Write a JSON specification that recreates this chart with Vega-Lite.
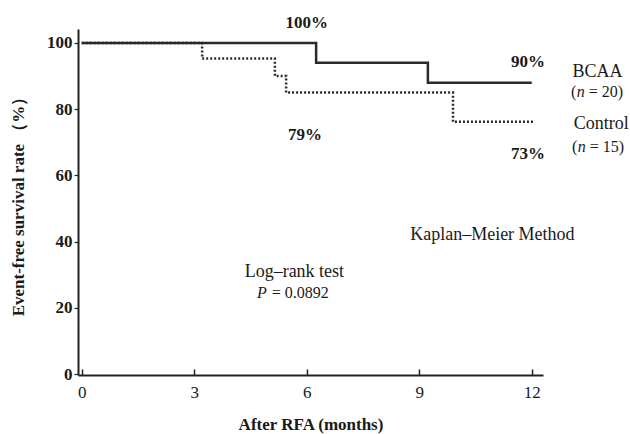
{
  "$schema": "https://vega.github.io/schema/vega-lite/v6.json",
  "width": 465,
  "height": 346,
  "autosize": {"type": "none"},
  "padding": {"left": 78, "top": 29, "right": 87, "bottom": 59},
  "background": "white",
  "config": {
    "view": {"stroke": null},
    "font": "Liberation Serif",
    "text": {"font": "Liberation Serif", "color": "#1a1a1a"}
  },
  "datasets": {
    "curves": [
      {"group": "BCAA", "month": 0, "rate": 100},
      {"group": "BCAA", "month": 6.25, "rate": 94},
      {"group": "BCAA", "month": 9.23, "rate": 88},
      {"group": "BCAA", "month": 12, "rate": 88},
      {"group": "Control", "month": 0, "rate": 100},
      {"group": "Control", "month": 3.21, "rate": 95.3},
      {"group": "Control", "month": 5.15, "rate": 90},
      {"group": "Control", "month": 5.45, "rate": 85},
      {"group": "Control", "month": 9.9, "rate": 76.2},
      {"group": "Control", "month": 12.08, "rate": 76.2}
    ],
    "labels": [
      {"kind": "pct", "text": "100%", "month": 6.0, "rate": 106.0},
      {"kind": "pct", "text": "79%", "month": 5.95, "rate": 72.2},
      {"kind": "pct", "text": "90%", "month": 11.9, "rate": 94.3},
      {"kind": "pct", "text": "73%", "month": 11.9, "rate": 66.5},
      {"kind": "center", "text": "BCAA", "month": 13.75, "rate": 91.1},
      {"kind": "center", "text": "Control", "month": 13.85, "rate": 75.6},
      {"kind": "center", "text": "Kaplan–Meier Method", "month": 10.95, "rate": 42.0},
      {"kind": "center", "text": "Log–rank test", "month": 5.67, "rate": 30.8},
      {"kind": "left", "text": "(", "month": 13.047, "rate": 85.2},
      {"kind": "italic", "text": "n", "month": 13.2, "rate": 85.2},
      {"kind": "left", "text": "= 20)", "month": 13.52, "rate": 85.2},
      {"kind": "left", "text": "(", "month": 13.073, "rate": 68.5},
      {"kind": "italic", "text": "n", "month": 13.226, "rate": 68.5},
      {"kind": "left", "text": "= 15)", "month": 13.546, "rate": 68.5},
      {"kind": "italic", "text": "P", "month": 4.673, "rate": 24.5},
      {"kind": "left", "text": "= 0.0892", "month": 5.065, "rate": 24.5}
    ]
  },
  "layer": [
    {
      "data": {"name": "curves"},
      "mark": {"type": "line", "interpolate": "step-after", "strokeWidth": 2.5, "color": "#2a2a2a", "clip": false},
      "encoding": {
        "x": {
          "field": "month", "type": "quantitative",
          "scale": {"domain": [-0.1, 12.3], "nice": false, "zero": false},
          "axis": {
            "values": [0, 3, 6, 9, 12],
            "title": "After RFA (months)",
            "grid": false,
            "tickSize": -6,
            "tickWidth": 1.5,
            "tickColor": "#222",
            "domainColor": "#222",
            "domainWidth": 2,
            "labelFont": "Liberation Serif",
            "labelFontSize": 17,
            "labelColor": "#1a1a1a",
            "labelPadding": 15,
            "titleFont": "Liberation Serif",
            "titleFontSize": 17,
            "titleFontWeight": "bold",
            "titleColor": "#1a1a1a",
            "titlePadding": 16
          }
        },
        "y": {
          "field": "rate", "type": "quantitative",
          "scale": {"domain": [-0.3, 104.2], "nice": false, "zero": false},
          "axis": {
            "values": [0, 5, 10, 15, 20, 25, 30, 35, 40, 45, 50, 55, 60, 65, 70, 75, 80, 85, 90, 95, 100],
            "labelExpr": "datum.value % 20 == 0 ? datum.label : ''",
            "title": "Event-free survival rate （%）",
            "grid": false,
            "tickSize": 4,
            "tickWidth": 1.2,
            "tickColor": "#222",
            "domainColor": "#222",
            "domainWidth": 2,
            "labelFont": "Liberation Serif",
            "labelFontSize": 17,
            "labelFontWeight": "bold",
            "labelColor": "#1a1a1a",
            "labelPadding": 2,
            "titleFont": "Liberation Serif",
            "titleFontSize": 17,
            "titleFontWeight": "bold",
            "titleColor": "#1a1a1a",
            "titlePadding": 19
          }
        },
        "strokeDash": {
          "field": "group", "type": "nominal",
          "scale": {"domain": ["BCAA", "Control"], "range": [[1, 0], [2, 2]]},
          "legend": null
        }
      }
    },
    {
      "data": {"name": "labels"},
      "transform": [{"filter": "datum.kind == 'pct'"}],
      "mark": {"type": "text", "fontSize": 17, "fontWeight": "bold", "align": "center", "baseline": "middle", "clip": false},
      "encoding": {
        "x": {"field": "month", "type": "quantitative"},
        "y": {"field": "rate", "type": "quantitative"},
        "text": {"field": "text"}
      }
    },
    {
      "data": {"name": "labels"},
      "transform": [{"filter": "datum.kind == 'center'"}],
      "mark": {"type": "text", "fontSize": 18, "align": "center", "baseline": "middle", "clip": false},
      "encoding": {
        "x": {"field": "month", "type": "quantitative"},
        "y": {"field": "rate", "type": "quantitative"},
        "text": {"field": "text"}
      }
    },
    {
      "data": {"name": "labels"},
      "transform": [{"filter": "datum.kind == 'left'"}],
      "mark": {"type": "text", "fontSize": 16, "align": "left", "baseline": "middle", "clip": false},
      "encoding": {
        "x": {"field": "month", "type": "quantitative"},
        "y": {"field": "rate", "type": "quantitative"},
        "text": {"field": "text"}
      }
    },
    {
      "data": {"name": "labels"},
      "transform": [{"filter": "datum.kind == 'italic'"}],
      "mark": {"type": "text", "fontSize": 16, "fontStyle": "italic", "align": "left", "baseline": "middle", "clip": false},
      "encoding": {
        "x": {"field": "month", "type": "quantitative"},
        "y": {"field": "rate", "type": "quantitative"},
        "text": {"field": "text"}
      }
    }
  ]
}
